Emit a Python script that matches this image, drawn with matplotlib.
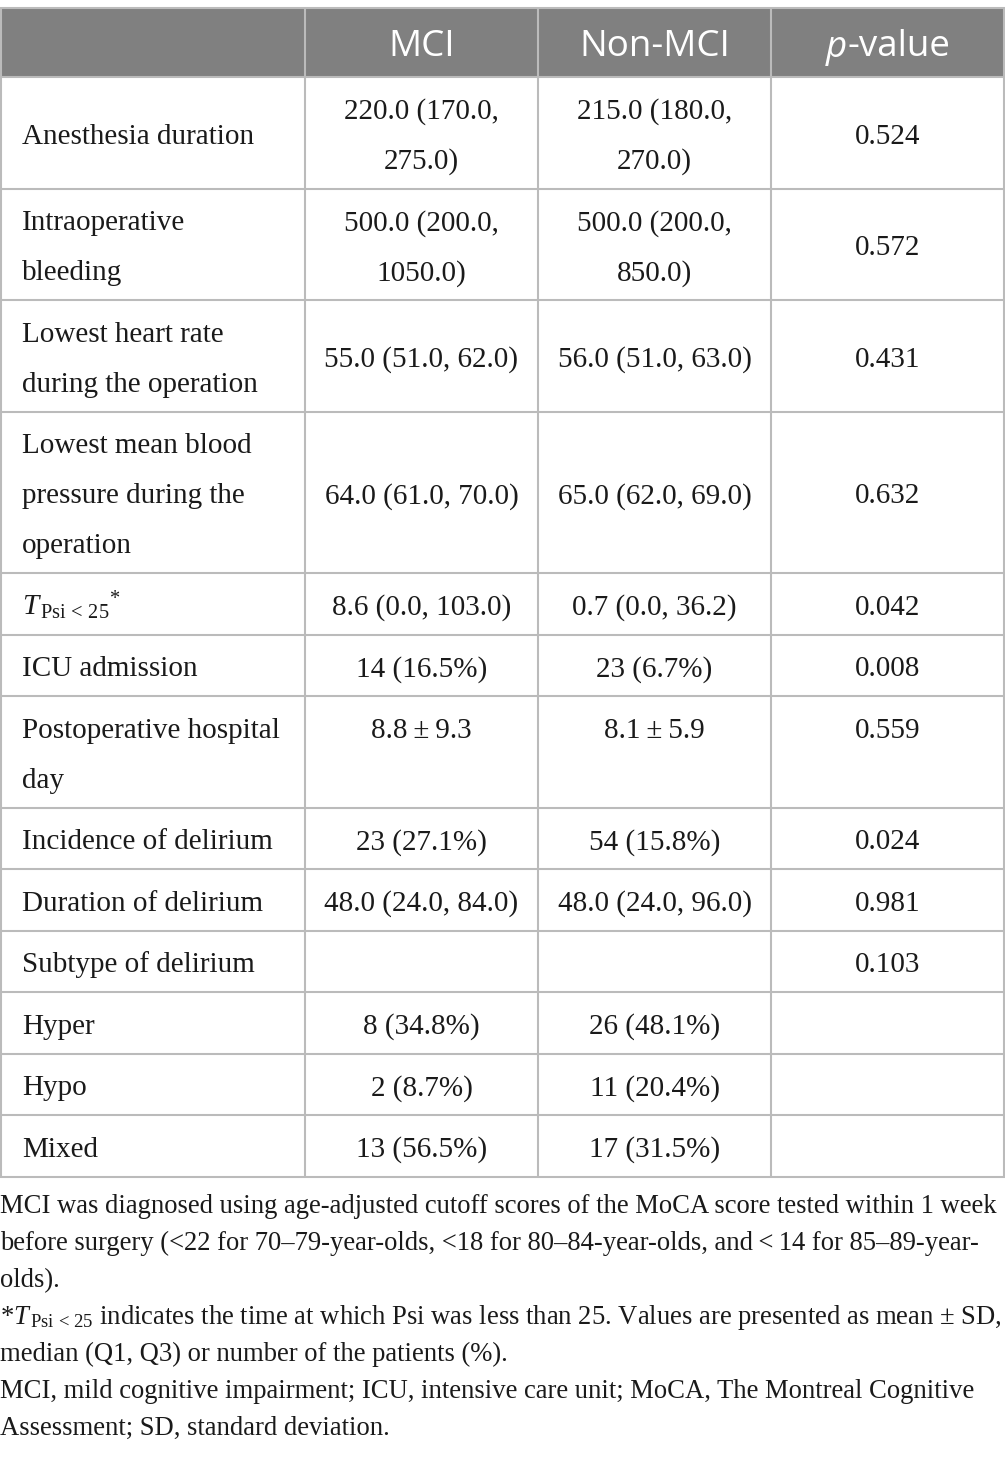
import textwrap
import matplotlib.pyplot as plt
from matplotlib.patches import Rectangle

plt.rcParams['mathtext.fontset'] = 'custom'
plt.rcParams['mathtext.rm'] = 'Liberation Serif'
plt.rcParams['mathtext.it'] = 'Liberation Serif:italic'

# data of the table
headers = ['MCI', 'Non-MCI']
variables = ['Anesthesia duration', 'Intraoperative bleeding',
             'Lowest heart rate during the operation',
             'Lowest mean blood pressure during the operation',
             r'$T_{\,\mathrm{Psi\,<\,25}}{}^{*}$', 'ICU admission',
             'Postoperative hospital day', 'Incidence of delirium',
             'Duration of delirium', 'Subtype of delirium',
             'Hyper', 'Hypo', 'Mixed']
mci = ['220.0 (170.0, 275.0)', '500.0 (200.0, 1050.0)', '55.0 (51.0, 62.0)',
       '64.0 (61.0, 70.0)', '8.6 (0.0, 103.0)', '14 (16.5%)', '8.8\u2009±\u20099.3',
       '23 (27.1%)', '48.0 (24.0, 84.0)', '', '8 (34.8%)', '2 (8.7%)',
       '13 (56.5%)']
non_mci = ['215.0 (180.0, 270.0)', '500.0 (200.0, 850.0)', '56.0 (51.0, 63.0)',
           '65.0 (62.0, 69.0)', '0.7 (0.0, 36.2)', '23 (6.7%)', '8.1\u2009±\u20095.9',
           '54 (15.8%)', '48.0 (24.0, 96.0)', '', '26 (48.1%)', '11 (20.4%)',
           '17 (31.5%)']
p_values = ['0.524', '0.572', '0.431', '0.632', '0.042', '0.008', '0.559',
            '0.024', '0.981', '0.103', '', '', '']
notes = [
    'MCI was diagnosed using age-adjusted cutoff scores of the MoCA score tested within 1 week',
    'before surgery (<22 for 70–79-year-olds, <18 for 80–84-year-olds, and\u2009<\u200914 for 85–89-year-',
    'olds).',
    r'*$T_{\,\mathrm{Psi\,<\,25}}$ indicates the time at which Psi was less than 25. Values are presented as mean ± SD,',
    'median (Q1, Q3) or number of the patients (%).',
    'MCI, mild cognitive impairment; ICU, intensive care unit; MoCA, The Montreal Cognitive',
    'Assessment; SD, standard deviation.',
]

W, H = 1005, 1457
fig = plt.figure(figsize=(W / 100, H / 100), dpi=100)
ax = fig.add_axes([0, 0, 1, 1])
ax.set_xlim(0, W)
ax.set_ylim(H, 0)
ax.axis('off')

col_x = [0.8, 305, 538, 771, 1004]
top, head_bot = 8, 77
line_h = 50
pad = 11.5
grid = '#bbbbbb'
serif = 'Liberation Serif'
sans = 'Open Sans'
fs = 21
ink = '#1a1a1a'
top_aligned = {6}   # this row keeps its values on the first line

# header band
ax.add_patch(Rectangle((0, top), W, head_bot - top, color='#808080', lw=0))
hb = 56.5
hfs = 26.5
for j, h in enumerate(headers):
    cx = (col_x[j + 1] + col_x[j + 2]) / 2
    ax.text(cx, hb, h, ha='center', va='baseline', color='white',
            family=sans, fontsize=hfs)
# p-value header: italic p + "-value", centred together
cx = (col_x[3] + col_x[4]) / 2
fig.canvas.draw()
r = fig.canvas.get_renderer()
t1 = ax.text(0, hb, 'p', color='white', family=sans, fontsize=hfs,
             style='italic', va='baseline')
t2 = ax.text(0, hb, '-value', color='white', family=sans, fontsize=hfs,
             va='baseline')
w1 = t1.get_window_extent(r).width
w2 = t2.get_window_extent(r).width
t1.set_x(cx - (w1 + w2) / 2)
t2.set_x(cx - (w1 + w2) / 2 + w1 + 1)

# body rows
y = head_bot
row_tops = [y]
for i, var in enumerate(variables):
    cells = [textwrap.wrap(var, 22) if '$' not in var else [var],
             textwrap.wrap(mci[i], 18), textwrap.wrap(non_mci[i], 18),
             [p_values[i]] if p_values[i] else []]
    n = max(len(c) for c in cells)
    rh = pad + line_h * n
    for j, lines in enumerate(cells):
        if i in top_aligned and j > 0:
            off = 0
        else:
            off = (n - len(lines)) * line_h / 2
        for k, s in enumerate(lines):
            base = y + pad / 2 + off + line_h * (k + 0.5) + 11
            if j == 0:
                ax.text(22, base, s, ha='left', va='baseline', family=serif,
                        fontsize=fs, color=ink)
            else:
                cx = (col_x[j] + col_x[j + 1]) / 2
                ax.text(cx, base, s, ha='center', va='baseline', family=serif,
                        fontsize=fs, color=ink)
    y += rh
    row_tops.append(y)

for yy in row_tops:
    ax.plot([0, W], [yy, yy], color=grid, lw=1.5, solid_capstyle='butt')
for xx in col_x:
    ax.plot([xx, xx], [top, row_tops[-1]], color=grid, lw=1.5,
            solid_capstyle='butt')
ax.plot([0, W], [top, top], color=grid, lw=1.5)

# footnotes
for k, s in enumerate(notes):
    ax.text(0, 1213 + 37 * k, s, ha='left', va='baseline', family=serif,
            fontsize=19.2, color=ink)

fig.savefig('out.png', dpi=100)
